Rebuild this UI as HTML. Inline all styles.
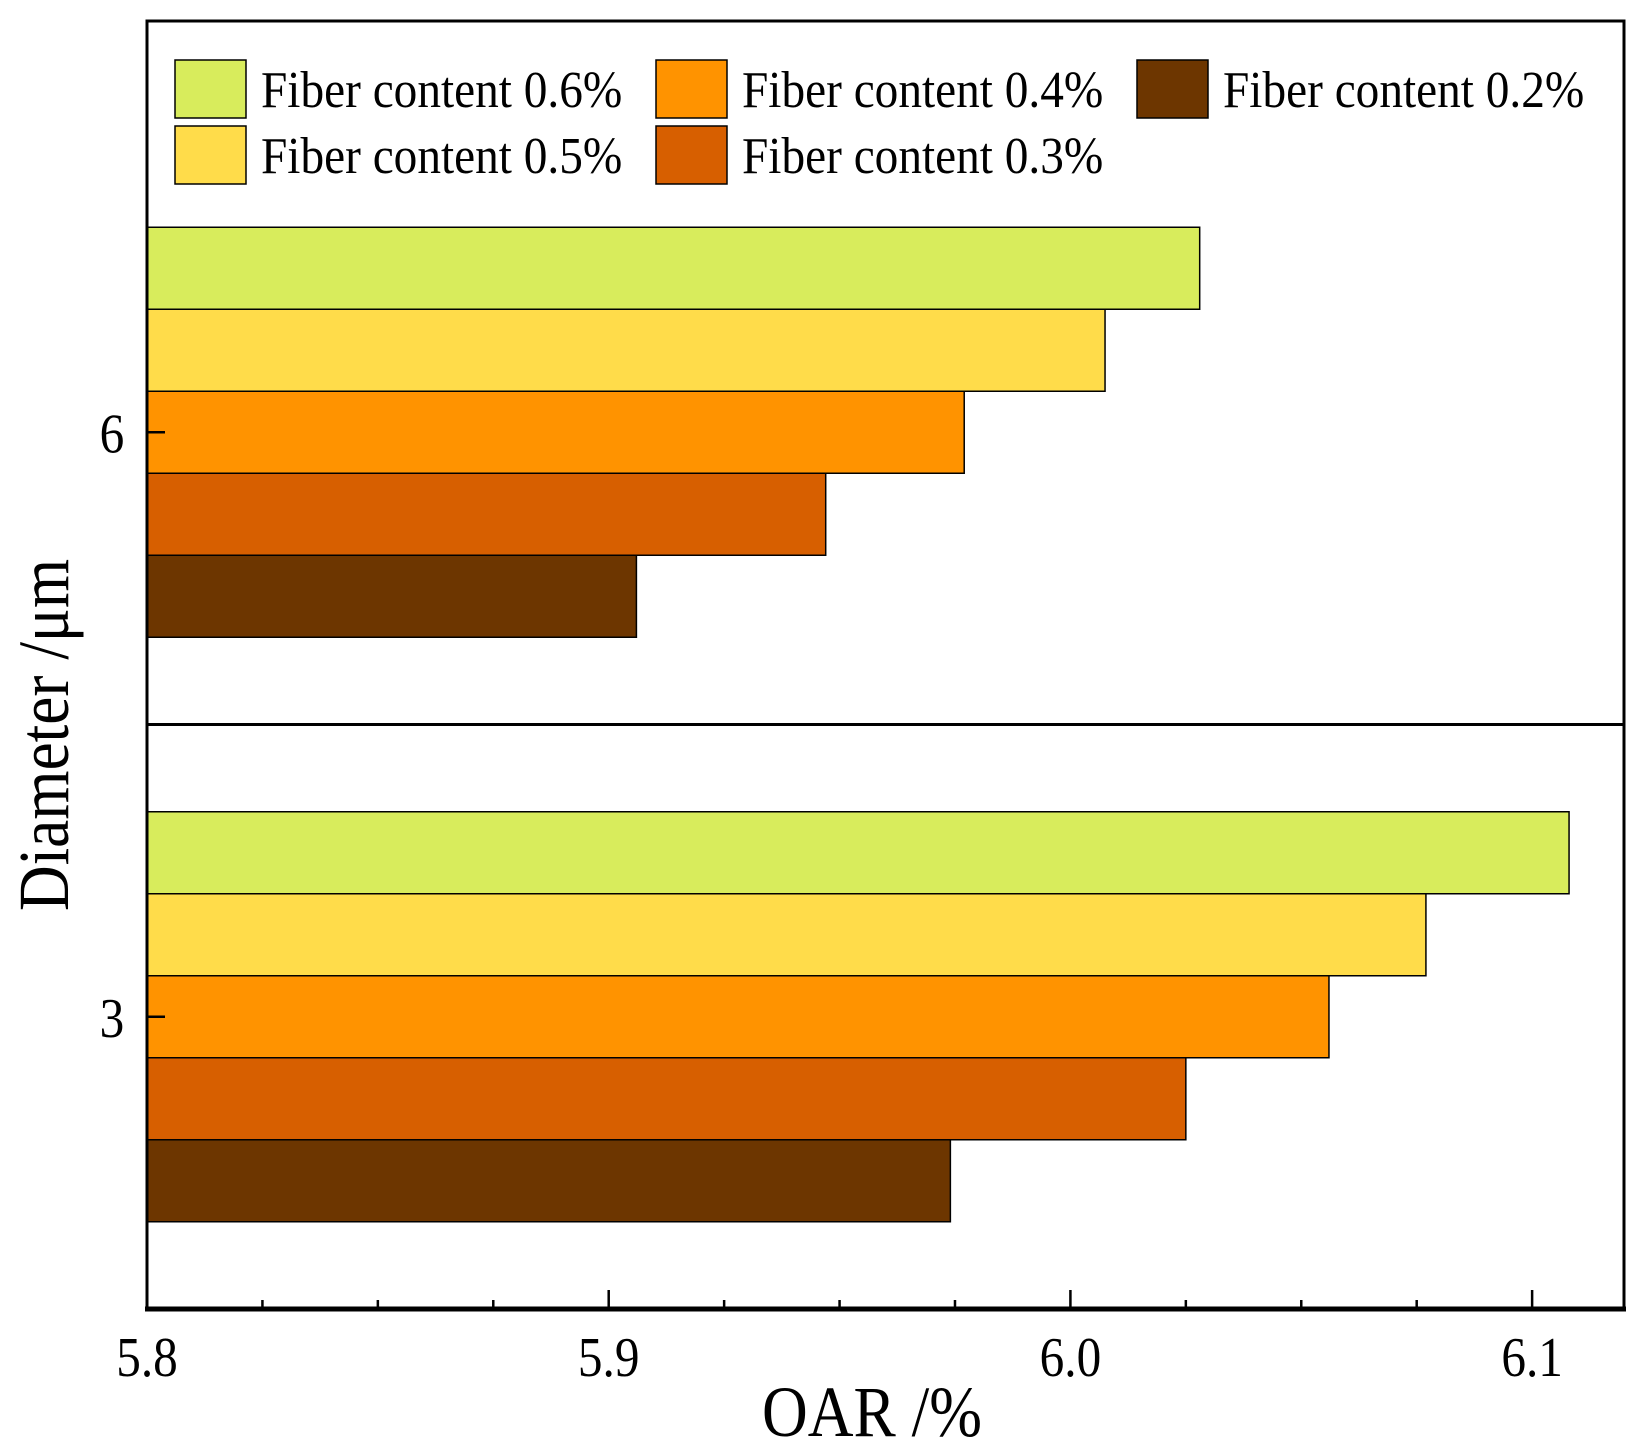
<!DOCTYPE html>
<html><head><meta charset="utf-8"><style>
html,body{margin:0;padding:0;background:#fff;}
svg{display:block;font-family:"Liberation Serif",serif;}
</style></head><body>
<svg id="chart" width="1644" height="1455" viewBox="0 0 1644 1455">
<g id="bars"></g>
<g id="axes"></g>
<g id="legend"></g>
</svg>
<script>
const categories = ["3", "6"];
const seriesNames = ["Fiber content 0.6%", "Fiber content 0.5%", "Fiber content 0.4%", "Fiber content 0.3%", "Fiber content 0.2%"];
const seriesColors = ["#d8ec5c", "#ffdc4a", "#ff9300", "#d75f00", "#6d3600"];
const values06 = [6.108, 6.028];
const values05 = [6.077, 6.0075];
const values04 = [6.056, 5.977];
const values03 = [6.025, 5.947];
const values02 = [5.974, 5.906];
const xTickLabels = ["5.8", "5.9", "6.0", "6.1"];
const xTicks = [5.8, 5.9, 6.0, 6.1];

const allValues = [values06, values05, values04, values03, values02];
const NS = "http://www.w3.org/2000/svg";
const L = 147, R = 1624, T = 21, B = 1309;
const xMin = 5.8, xMax = 6.1199;
function xs(v){ return L + (v - xMin) / (xMax - xMin) * (R - L); }
const catH = 584.5;
function yc(i){ return B - catH * (i + 0.5); }
const barH = 82;
function mk(tag, attrs, parent){
  const e = document.createElementNS(NS, tag);
  for (const k in attrs) e.setAttribute(k, attrs[k]);
  parent.appendChild(e);
  return e;
}
const gb = document.getElementById('bars');
const ga = document.getElementById('axes');
const gl = document.getElementById('legend');

categories.forEach((c, ci) => {
  const top = yc(ci) - barH * allValues.length / 2;
  allValues.forEach((arr, si) => {
    const r = mk('rect', {x: L, y: top + si * barH, width: xs(arr[ci]) - L, height: barH, fill: seriesColors[si], stroke: '#000', 'stroke-width': 1.5}, gb);
    
    
  });
});

const div = mk('line', {x1: L, x2: R, y1: B - catH, y2: B - catH, stroke: '#000', 'stroke-width': 3}, ga);



const fr = mk('rect', {x: L, y: T, width: R - L, height: B - T, fill: 'none', stroke: '#000', 'stroke-width': 3}, ga);


const xa = mk('line', {x1: L - 2, x2: R + 2, y1: B, y2: B, stroke: '#000', 'stroke-width': 5}, ga);



for (let v = 5.8; v <= xMax + 1e-9; v += 0.025) {
  const major = Math.abs(v * 10 - Math.round(v * 10)) < 1e-6;
  const t = mk('line', {x1: xs(v), x2: xs(v), y1: B, y2: B - (major ? 19 : 9), stroke: '#000', 'stroke-width': 2.5}, ga);
  
  
}
xTicks.forEach((v, i) => {
  const t = mk('text', {x: 0, y: 0, 'font-size': 56, 'text-anchor': 'middle', transform: 'translate(' + xs(v) + ',1376) scale(0.88,1)'}, ga);
  t.textContent = xTickLabels[i];
  
  
});
categories.forEach((c, ci) => {
  const t = mk('line', {x1: L, x2: L + 18, y1: yc(ci), y2: yc(ci), stroke: '#000', 'stroke-width': 2.5}, ga);
  
  
  const tl = mk('text', {x: 0, y: 0, 'font-size': 56, 'text-anchor': 'middle', transform: 'translate(112,' + (yc(ci) + 20) + ') scale(0.88,1)'}, ga);
  tl.textContent = c;
  
  
});
const xt = mk('text', {x: 0, y: 0, 'font-size': 72, 'text-anchor': 'middle', transform: 'translate(872,1436) scale(0.88,1)'}, ga);
xt.textContent = 'OAR /%';


const yt = mk('text', {x: 0, y: 0, 'font-size': 72, 'text-anchor': 'middle', transform: 'translate(68,735) rotate(-90) scale(0.88,1)'}, ga);
yt.textContent = 'Diameter /\u03bcm';



const legPos = [[175, 60], [175, 126], [656, 60], [656, 126], [1137, 60]];
seriesNames.forEach((n, i) => {
  const [x, y] = legPos[i];
  const g = mk('g', {}, gl);
  
  
  const s = mk('rect', {x: x, y: y, width: 71, height: 58, fill: seriesColors[i], stroke: '#000', 'stroke-width': 1.5}, g);
  
  
  const t = mk('text', {x: 0, y: 0, 'font-size': 52, transform: 'translate(' + (x + 86) + ',' + (y + 47) + ') scale(0.91,1)'}, g);
  t.textContent = n;
  
  
});
</script>
</body></html>
